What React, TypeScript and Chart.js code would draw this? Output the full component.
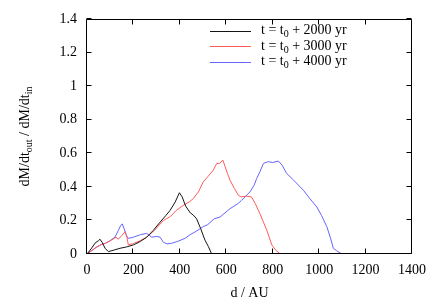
import React, { useEffect, useRef } from "react";
import { Chart, registerables } from "chart.js";

Chart.register(...registerables);

// ---- data ----
const d2000 = [0, 20, 34, 50, 56, 65, 78, 92, 120, 142, 170, 200, 230, 257, 285, 315, 340, 358, 380, 398, 410, 425, 445, 458, 472, 490, 508, 523, 537];
const v2000 = [0, 0.035, 0.064, 0.08, 0.088, 0.07, 0.034, 0.014, 0.025, 0.034, 0.042, 0.054, 0.075, 0.1, 0.14, 0.19, 0.23, 0.26, 0.31, 0.365, 0.34, 0.285, 0.245, 0.232, 0.21, 0.15, 0.083, 0.044, 0];

const d3000 = [0, 20, 40, 60, 80, 100, 125, 135, 150, 164, 172, 178, 200, 230, 257, 290, 329, 358, 385, 415, 440, 458, 480, 501, 520, 544, 559, 572, 585, 595, 605, 616, 635, 652, 665, 685, 709, 725, 745, 760, 775, 796, 815, 832];
const v3000 = [0, 0.02, 0.04, 0.055, 0.064, 0.078, 0.1, 0.088, 0.11, 0.133, 0.1, 0.054, 0.062, 0.08, 0.1, 0.14, 0.2, 0.222, 0.26, 0.29, 0.31, 0.33, 0.37, 0.43, 0.46, 0.5, 0.54, 0.54, 0.56, 0.52, 0.48, 0.44, 0.39, 0.35, 0.34, 0.345, 0.34, 0.3, 0.24, 0.19, 0.14, 0.054, 0.02, 0];

const d4000 = [0, 20, 40, 60, 80, 100, 120, 135, 145, 152, 160, 170, 178, 200, 230, 257, 279, 300, 315, 329, 345, 365, 390, 422, 444, 470, 501, 520, 548, 573, 616, 650, 666, 702, 720, 731, 745, 760, 781, 800, 824, 840, 860, 890, 932, 960, 990, 1010, 1033, 1050, 1061, 1075, 1097];
const v4000 = [0, 0.02, 0.04, 0.055, 0.065, 0.08, 0.1, 0.14, 0.17, 0.179, 0.15, 0.11, 0.093, 0.1, 0.115, 0.123, 0.1, 0.105, 0.1, 0.07, 0.06, 0.064, 0.075, 0.093, 0.115, 0.135, 0.163, 0.175, 0.21, 0.22, 0.27, 0.3, 0.32, 0.37, 0.41, 0.45, 0.49, 0.54, 0.55, 0.545, 0.554, 0.53, 0.48, 0.44, 0.38, 0.33, 0.28, 0.23, 0.163, 0.09, 0.034, 0.02, 0];

const xTicks = [0, 200, 400, 600, 800, 1000, 1200, 1400];
const yTicks = [0, 0.2, 0.4, 0.6, 0.8, 1, 1.2, 1.4];

const legendYears = ["2000", "3000", "4000"];
const seriesColors = ["rgb(20,20,20)", "rgb(255,90,90)", "rgb(100,100,255)"];

const FONT = "Liberation Serif";

function toPoints(xs: number[], ys: number[]) {
  return xs.map((x, i) => ({ x, y: ys[i] }));
}

const framePlugin = {
  id: "frame",
  afterDraw(chart: any) {
    const { ctx, chartArea, scales } = chart;
    const { left, right, top, bottom } = chartArea;
    const xs = scales.x;
    const ys = scales.y;
    ctx.save();
    ctx.strokeStyle = "#000";
    ctx.lineWidth = 1;
    const L = Math.round(left) - 0.5;
    const R = Math.round(right) - 0.5;
    const T = Math.round(top) + 0.5;
    const B = Math.round(bottom) - 0.5;
    ctx.beginPath();
    ctx.rect(L, T, R - L, B - T);
    ctx.stroke();
    const tl = 5;
    ctx.beginPath();
    xTicks.forEach((v) => {
      const p = Math.round(xs.getPixelForValue(v)) - 0.5;
      ctx.moveTo(p, B);
      ctx.lineTo(p, B - tl);
      ctx.moveTo(p, T);
      ctx.lineTo(p, T + tl);
    });
    yTicks.forEach((v) => {
      const p = Math.round(ys.getPixelForValue(v)) - 0.5;
      ctx.moveTo(L, p);
      ctx.lineTo(L + tl, p);
      ctx.moveTo(R, p);
      ctx.lineTo(R - tl, p);
    });
    ctx.stroke();

    // legend
    ctx.textBaseline = "middle";
    ctx.textAlign = "left";
    const rowY = [30.5, 46, 61.5];
    legendYears.forEach((yr, i) => {
      const y = rowY[i];
      ctx.strokeStyle = seriesColors[i];
      ctx.beginPath();
      ctx.moveTo(210, Math.round(y) + 0.5);
      ctx.lineTo(251, Math.round(y) + 0.5);
      ctx.stroke();
      let x = 261;
      ctx.fillStyle = "#000";
      ctx.font = `14px "${FONT}"`;
      const a = "t = t";
      ctx.fillText(a, x, y);
      x += ctx.measureText(a).width;
      ctx.font = `10px "${FONT}"`;
      ctx.fillText("0", x, y + 4);
      x += ctx.measureText("0").width;
      ctx.font = `14px "${FONT}"`;
      ctx.fillText(" + " + yr + " yr", x, y);
    });

    // x title
    ctx.textAlign = "center";
    ctx.font = `14px "${FONT}"`;
    ctx.fillText("d / AU", (left + right) / 2, 293);

    // y title (rotated, with subscripts)
    const parts: [string, boolean][] = [
      ["dM/dt", false],
      ["out", true],
      [" / dM/dt", false],
      ["in", true],
    ];
    ctx.save();
    ctx.translate(25, (top + bottom) / 2);
    ctx.rotate(-Math.PI / 2);
    let total = 0;
    parts.forEach(([s, sub]) => {
      ctx.font = sub ? `10px "${FONT}"` : `14px "${FONT}"`;
      total += ctx.measureText(s).width;
    });
    let x = -total / 2;
    ctx.textAlign = "left";
    parts.forEach(([s, sub]) => {
      ctx.font = sub ? `10px "${FONT}"` : `14px "${FONT}"`;
      ctx.fillText(s, x, sub ? 4 : 0);
      x += ctx.measureText(s).width;
    });
    ctx.restore();
    ctx.restore();
  },
};

export default function App() {
  const ref = useRef<HTMLCanvasElement | null>(null);
  useEffect(() => {
    document.body.style.margin = "0";
    const canvas = ref.current!;
    const chart = new Chart(canvas, {
      type: "line",
      data: {
        datasets: [
          { label: "2000", data: toPoints(d2000, v2000) },
          { label: "3000", data: toPoints(d3000, v3000) },
          { label: "4000", data: toPoints(d4000, v4000) },
        ].map((ds, i) => ({
          ...ds,
          borderColor: seriesColors[i],
          backgroundColor: seriesColors[i],
          borderWidth: 1,
          pointRadius: 0,
          tension: 0,
          fill: false,
        })),
      },
      options: {
        responsive: false,
        animation: false,
        events: [],
        layout: { padding: { top: 19, right: 24, left: 0, bottom: 0 } },
        plugins: { legend: { display: false }, tooltip: { enabled: false }, title: { display: false } },
        scales: {
          x: {
            type: "linear",
            min: 0,
            max: 1400,
            afterBuildTicks: (s: any) => {
              s.ticks = xTicks.map((v) => ({ value: v }));
            },
            afterFit: (s: any) => {
              s.height = 51;
            },
            grid: { display: false, drawTicks: false },
            border: { display: false },
            ticks: {
              color: "#000",
              font: { family: FONT, size: 14 },
              padding: 8,
              maxRotation: 0,
              autoSkip: false,
              callback: (v: any) => String(v),
            },
          },
          y: {
            type: "linear",
            min: 0,
            max: 1.4,
            afterBuildTicks: (s: any) => {
              s.ticks = yTicks.map((v) => ({ value: v }));
            },
            afterFit: (s: any) => {
              s.width = 87;
            },
            grid: { display: false, drawTicks: false },
            border: { display: false },
            ticks: {
              color: "#000",
              font: { family: FONT, size: 14 },
              padding: 10,
              autoSkip: false,
              callback: (v: any) => String(Math.round(Number(v) * 10) / 10),
            },
          },
        },
      },
      plugins: [framePlugin],
    } as any);
    return () => chart.destroy();
  }, []);
  return <canvas ref={ref} width={436} height={305} style={{ display: "block" }} />;
}
